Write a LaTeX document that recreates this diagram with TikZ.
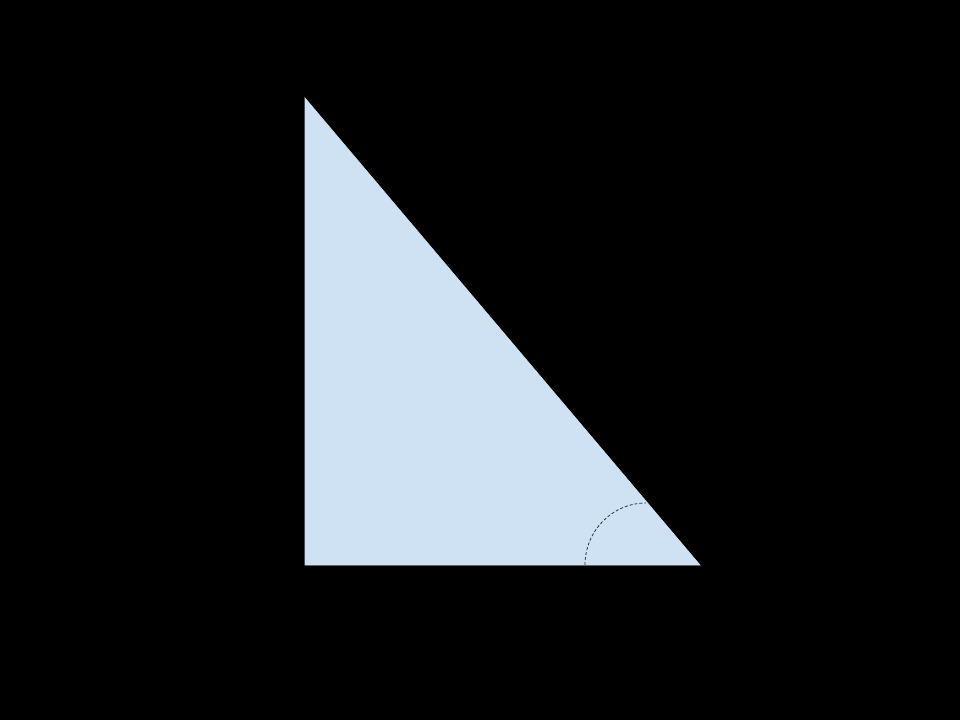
\documentclass[tikz,border=0pt]{standalone}
\definecolor{trifill}{HTML}{CFE2F3}
\definecolor{arcline}{HTML}{2B3440}
\begin{document}
\begin{tikzpicture}[x=1pt,y=-1pt,
  tri/.style={fill=trifill,draw=trifill,line width=0.6pt,line join=miter},
  anglearc/.style={draw=arcline,dashed,dash pattern=on 3pt off 2pt,line width=0.8pt}]
  \fill[black] (0,0) rectangle (960,720);
  \useasboundingbox (0,0) rectangle (960,720);
  \coordinate (A) at (305,98);
  \coordinate (B) at (305,565);
  \coordinate (C) at (700,565);
  \path[tri] (A) -- (B) -- (C) -- cycle;
  \coordinate (S) at (585,565);
  \draw[anglearc] (S) arc[start angle=180, end angle=90, x radius=61, y radius=-62];
\end{tikzpicture}
\end{document}
